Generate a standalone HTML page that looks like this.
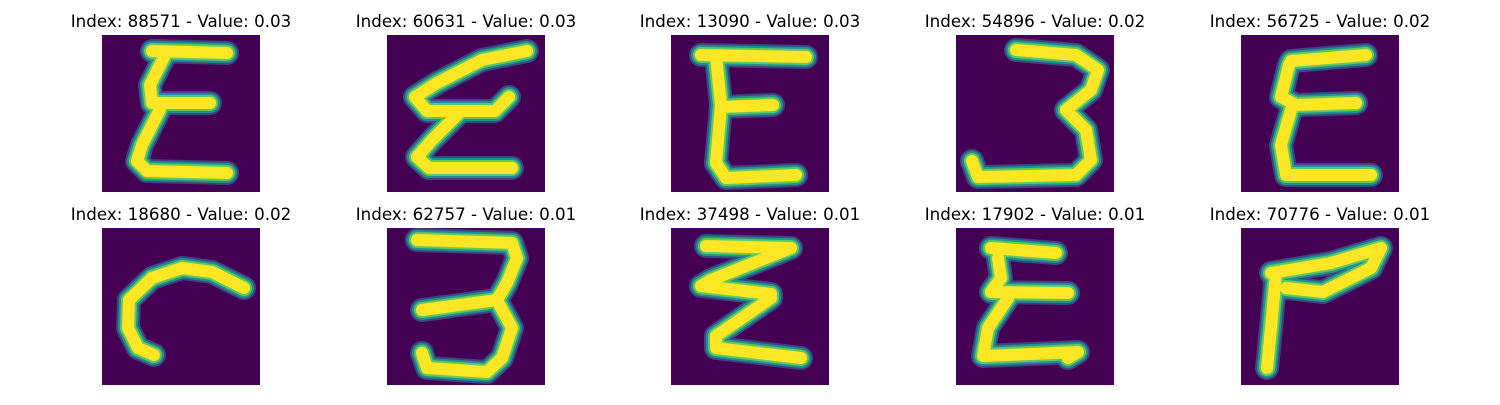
<!DOCTYPE html>
<html><head><meta charset="utf-8"><style>
body{margin:0;background:#fff;width:1500px;height:400px;overflow:hidden}
svg text{font-family:"DejaVu Sans","Liberation Sans",sans-serif;font-size:16.7px;fill:#000}
</style></head><body>
<svg id="fig" width="1500" height="400" xmlns="http://www.w3.org/2000/svg"></svg>
<script>
const indices=[88571,60631,13090,54896,56725,18680,62757,37498,17902,70776];
const values=["0.03","0.03","0.03","0.02","0.02","0.02","0.01","0.01","0.01","0.01"];
const strokes=[
 [[[50,16],[125,18]],[[62,22],[48,50],[50,68],[108,68]],[[58,74],[40,110],[35,126],[45,136],[125,138]]],
 [[[140,16],[95,25],[50,48],[28,62],[40,76],[108,76],[122,62]],[[72,78],[45,105],[30,122],[42,133],[125,133]]],
 [[[30,20],[135,22]],[[45,22],[50,70],[45,128],[55,143],[125,140]],[[50,72],[102,70]]],
 [[[60,15],[120,20],[142,35],[135,55],[110,75],[130,95],[135,125],[120,140],[22,142],[16,126]]],
 [[[50,26],[125,20]],[[48,30],[40,62],[55,70],[115,68]],[[50,75],[40,110],[45,140],[130,140]]],
 [[[142,60],[110,44],[80,40],[50,50],[27,72],[26,100],[36,120],[52,127]]],
 [[[30,12],[125,15],[130,30],[120,55],[110,72],[35,82]],[[112,76],[125,100],[115,130],[100,144],[40,140],[35,125]]],
 [[[35,18],[120,20]],[[115,22],[40,52],[30,58],[100,66]],[[100,70],[45,108],[45,120],[130,130]]],
 [[[35,20],[100,25]],[[42,30],[45,50],[35,64],[112,65]],[[52,70],[32,100],[27,128],[122,124],[112,130]]],
 [[[30,45],[90,35],[140,20],[130,40],[82,64],[45,60]],[[35,45],[30,100],[26,140]]]
];
const colX=[102,387,671,956,1241], rowY=[35,228], W=158, H=157;
const svg=document.getElementById('fig');
const NS='http://www.w3.org/2000/svg';
const layers=[["#3b528b",24,0.85],["#21918c",20,1],["#5ec962",16,1],["#fde725",12,1]];
for(let i=0;i<10;i++){
 const x=colX[i%5], y=rowY[Math.floor(i/5)];
 const g=document.createElementNS(NS,'g');
 
 
 const r=document.createElementNS(NS,'rect');
 r.setAttribute('x',x);r.setAttribute('y',y);r.setAttribute('width',W);r.setAttribute('height',H);r.setAttribute('fill','#440154');
 
 
 g.appendChild(r);
 for(const [c,w,o] of layers){
  for(const s of strokes[i]){
   const p=document.createElementNS(NS,'polyline');
   p.setAttribute('points',s.map(q=>(x+q[0])+','+(y+q[1])).join(' '));
   p.setAttribute('fill','none');p.setAttribute('stroke',c);p.setAttribute('stroke-width',w);p.setAttribute('opacity',o);
   p.setAttribute('stroke-linejoin','round');p.setAttribute('stroke-linecap','round');
   
   
   g.appendChild(p);
  }
 }
 const t=document.createElementNS(NS,'text');
 t.setAttribute('x',x+W/2);t.setAttribute('y',y-8);t.setAttribute('text-anchor','middle');
 t.textContent='Index: '+indices[i]+' - Value: '+values[i];
 
 
 g.appendChild(t);
 svg.appendChild(g);
}
</script>
</body></html>
